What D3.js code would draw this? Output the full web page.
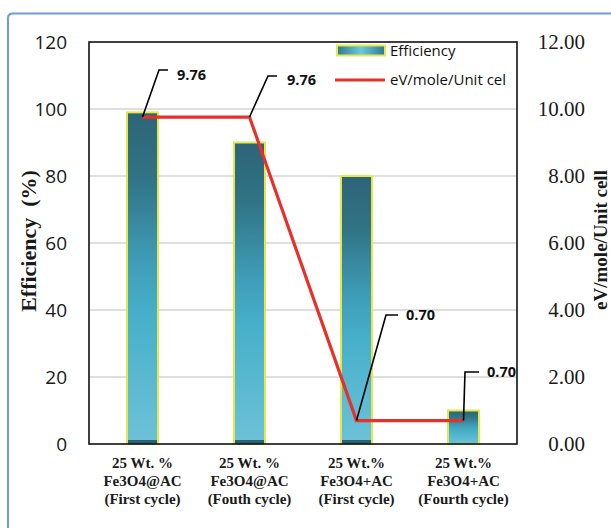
<!DOCTYPE html>
<html><head><meta charset="utf-8">
<script src="https://cdn.jsdelivr.net/npm/d3@7/dist/d3.min.js"></script>
<style>html,body{margin:0;padding:0;background:#fff;overflow:hidden}</style>
</head><body>
<svg id="chart" width="611" height="528"></svg>
<script>
// ---- data ----
const categories = ["c1", "c2", "c3", "c4"];
const categoryLines = [
  ["25 Wt. %", "Fe3O4@AC", "(First cycle)"],
  ["25 Wt. %", "Fe3O4@AC", "(Fouth cycle)"],
  ["25 Wt.%", "Fe3O4+AC", "(First cycle)"],
  ["25 Wt.%", "Fe3O4+AC", "(Fourth cycle)"]
];
const efficiency = [99, 90, 80, 10];
const energy = [9.76, 9.76, 0.70, 0.70];
const energyLabels = ["9.76", "9.76", "0.70", "0.70"];
const leftTicks = [0, 20, 40, 60, 80, 100, 120];
const rightTicks = [0, 2, 4, 6, 8, 10, 12];
const seriesNames = ["Efficiency", "eV/mole/Unit cel"];
const leftTitle = "Efficiency\u00a0\u00a0(%)";
const rightTitle = "eV/mole/Unit cell";

// ---- layout (styling) ----
const plot = {left: 89, right: 517, top: 42, bottom: 444};
// leader-line layout relative to each point: elbow, horizontal end, text start/center
const leader = [
  {ex: 16.5, ey: -47, hx: 25.5, tx: 34.5, ty: -42},
  {ex: 18.5, ey: -41, hx: 27.5, tx: 37.5, ty: -37},
  {ex: 29.5, ey: -105.5, hx: 41.5, tx: 49.5, ty: -105.5},
  {ex: 1.5, ey: -48.5, hx: 15.5, tx: 23.5, ty: -48.5}
];

const svg = d3.select("#chart");
const defs = svg.append("defs");

const gBar = defs.append("linearGradient").attr("id", "barGrad")
  .attr("x1", 0).attr("y1", 0).attr("x2", 0).attr("y2", 1);
[[0, "#2d6477"], [0.2, "#307486"], [0.45, "#3f9db8"], [0.6, "#46afc9"], [1, "#6dc2d8"]]
  .forEach(([o, c]) => gBar.append("stop").attr("offset", o).attr("stop-color", c));

const gLeg = defs.append("linearGradient").attr("id", "legGrad")
  .attr("x1", 0).attr("y1", 0).attr("x2", 1).attr("y2", 0);
[[0, "#2f7890"], [0.5, "#6cc8de"], [1, "#2f7890"]]
  .forEach(([o, c]) => gLeg.append("stop").attr("offset", o).attr("stop-color", c));

// outer blue frame
svg.append("path")
  .attr("d", "M8,528 L8,18 Q8,13.5 13,13.5 L611,13.5")
  .attr("fill", "none").attr("stroke", "#6e9cd6").attr("stroke-width", 2);

const x = d3.scaleBand().domain(categories).range([plot.left, plot.right])
  .paddingInner(0.71).paddingOuter(0.355);
const yL = d3.scaleLinear().domain([0, 120]).range([plot.bottom, plot.top]);
const yR = d3.scaleLinear().domain([0, 12]).range([plot.bottom, plot.top]);
const cx = c => x(c) + x.bandwidth() / 2;

// gridlines
svg.append("g").selectAll("line").data(leftTicks.filter(t => t > 0 && t < 120)).join("line")
  .attr("x1", plot.left).attr("x2", plot.right)
  .attr("y1", d => yL(d)).attr("y2", d => yL(d))
  .attr("stroke", "#d4d4d4").attr("stroke-width", 1.5);

// bars
svg.append("g").selectAll("rect").data(categories).join("rect")
  .attr("x", d => x(d)).attr("width", x.bandwidth())
  .attr("y", (d, i) => yL(efficiency[i]))
  .attr("height", (d, i) => yL(0) - yL(efficiency[i]))
  .attr("fill", "url(#barGrad)")
  .attr("stroke", "#e6e84a").attr("stroke-width", 2);
svg.append("g").selectAll("rect").data(categories.slice(0, 3)).join("rect")
  .attr("x", d => x(d) + 1).attr("width", x.bandwidth() - 2)
  .attr("y", yL(0) - 4).attr("height", 4)
  .attr("fill", "#2a6275");

// plot frame
svg.append("rect")
  .attr("x", plot.left).attr("y", plot.top)
  .attr("width", plot.right - plot.left).attr("height", plot.bottom - plot.top)
  .attr("fill", "none").attr("stroke", "#111").attr("stroke-width", 1.6);

// left axis
const axL = svg.append("g").attr("transform", `translate(${plot.left},0)`)
  .call(d3.axisLeft(yL).tickValues(leftTicks).tickSize(0).tickPadding(22).tickFormat(d3.format("d")));
axL.select(".domain").remove();
axL.selectAll("text").attr("font-family", "'Open Sans', sans-serif")
  .attr("font-size", 19).attr("fill", "#1a1a1a");

// right axis
const axR = svg.append("g").attr("transform", `translate(${plot.right},0)`)
  .call(d3.axisRight(yR).tickValues(rightTicks).tickSize(0).tickFormat(d3.format(".2f")));
axR.select(".domain").remove();
axR.selectAll("text").attr("text-anchor", "end").attr("x", 68)
  .attr("font-family", "'Liberation Serif', 'Times New Roman', serif")
  .attr("font-size", 21).attr("fill", "#1a1a1a");

// category labels
const cat = svg.append("g").selectAll("text").data(categories).join("text")
  .attr("text-anchor", "middle")
  .attr("font-family", "'Liberation Serif', 'Times New Roman', serif")
  .attr("font-weight", "bold").attr("font-size", 15).attr("fill", "#1a1a1a");
cat.each(function (d, i) {
  const t = d3.select(this);
  categoryLines[i].forEach((ln, k) => {
    t.append("tspan").attr("x", cx(d)).attr("y", 468 + k * 18).text(ln);
  });
});

// axis titles
svg.append("text").attr("transform", "translate(36,241) rotate(-90)")
  .attr("text-anchor", "middle")
  .attr("font-family", "'Liberation Serif', 'Times New Roman', serif")
  .attr("font-weight", "bold").attr("font-size", 22).attr("fill", "#1a1a1a")
  .text(leftTitle);
svg.append("text").attr("transform", "translate(607,240) rotate(-90)")
  .attr("text-anchor", "middle")
  .attr("font-family", "'Liberation Serif', 'Times New Roman', serif")
  .attr("font-weight", "bold").attr("font-size", 19).attr("fill", "#1a1a1a")
  .text(rightTitle);

// energy line
const line = d3.line().x((d, i) => cx(categories[i])).y(d => yR(d));
svg.append("path").datum(energy).attr("d", line)
  .attr("fill", "none").attr("stroke", "#e8302a").attr("stroke-width", 3.2)
  .attr("stroke-linejoin", "miter");

// leader lines and data labels
energy.forEach((v, i) => {
  const px = cx(categories[i]), py = yR(v), L = leader[i];
  svg.append("path")
    .attr("d", `M${px},${py} L${px + L.ex},${py + L.ey} L${px + L.hx},${py + L.ey}`)
    .attr("fill", "none").attr("stroke", "#000").attr("stroke-width", 1.6);
  svg.append("text").attr("x", px + L.tx).attr("y", py + L.ty).attr("dy", "0.35em")
    .attr("font-family", "'Open Sans', sans-serif").attr("font-weight", "bold")
    .attr("font-size", 14.5).attr("fill", "#111").text(energyLabels[i]);
});

// legend
const leg = svg.append("g");
leg.append("rect").attr("x", 337).attr("y", 45.5).attr("width", 48).attr("height", 10)
  .attr("fill", "url(#legGrad)").attr("stroke", "#e6e84a").attr("stroke-width", 2);
leg.append("text").attr("x", 390).attr("y", 50.5).attr("dy", "0.35em")
  .attr("font-family", "'Open Sans', sans-serif").attr("font-size", 15).attr("fill", "#111")
  .text(seriesNames[0]);
leg.append("line").attr("x1", 335).attr("x2", 385).attr("y1", 80).attr("y2", 80)
  .attr("stroke", "#e8302a").attr("stroke-width", 3);
leg.append("text").attr("x", 390).attr("y", 79.5).attr("dy", "0.35em")
  .attr("font-family", "'Open Sans', sans-serif").attr("font-size", 15).attr("fill", "#111")
  .text(seriesNames[1]);
</script>
</body></html>
